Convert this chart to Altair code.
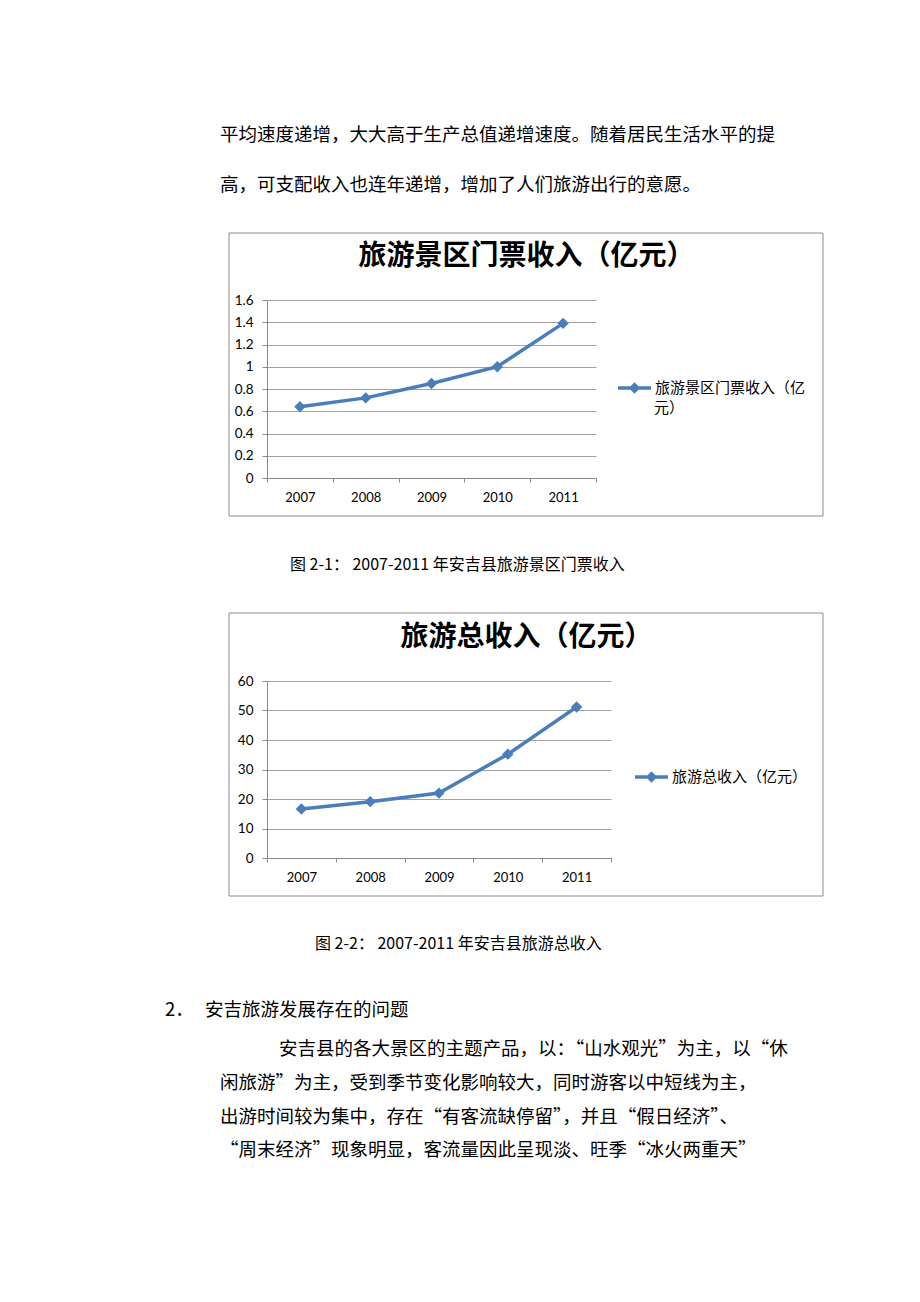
import json
import altair as alt
import pandas as pd

# ---------------- data ----------------
YEARS = ["2007", "2008", "2009", "2010", "2011"]
TICKET_INCOME = [0.64, 0.72, 0.85, 1.00, 1.39]
TOTAL_INCOME = [16.6, 19.1, 22.0, 35.2, 51.2]
TICKET_NAME = "旅游景区门票收入（亿元）"
TOTAL_NAME = "旅游总收入（亿元）"
TICKET_LEGEND_LINES = ["旅游景区门票收入（亿", "元）"]
TICKET_TICKS = [0, 0.2, 0.4, 0.6, 0.8, 1, 1.2, 1.4, 1.6]
TOTAL_TICKS = [0, 10, 20, 30, 40, 50, 60]

TOP_LINES = [
    "平均速度递增，大大高于生产总值递增速度。随着居民生活水平的提",
    "高，可支配收入也连年递增，增加了人们旅游出行的意愿。",
]
CAPTION_1 = "图 2-1：  2007-2011 年安吉县旅游景区门票收入"
CAPTION_2 = "图 2-2：  2007-2011 年安吉县旅游总收入"
HEADING_NUM = "2．"
HEADING = "安吉旅游发展存在的问题"
PARA_LINES = [
    "安吉县的各大景区的主题产品，以：“山水观光”为主，以“休",
    "闲旅游”为主，受到季节变化影响较大，同时游客以中短线为主，",
    "出游时间较为集中，存在“有客流缺停留”，并且“假日经济”、",
    "“周末经济”现象明显，客流量因此呈现淡、旺季“冰火两重天”",
]

# ---------------- style ----------------
BLUE = "#4A7EBB"
GRID = "#a3a3a3"
AXIS = "#8a8a8a"
FRAME = "#8c8c8c"
CJK = "Noto Sans CJK SC"
NUM = "Lato"
BODY = 18.5


def text_layer(s, x, y, size=BODY):
    return alt.Chart(pd.DataFrame({"t": [s]})).mark_text(
        align="left", baseline="middle", font=CJK, fontSize=size, color="#000"
    ).encode(x=alt.value(x), y=alt.value(y), text="t:N")


def rect_layer(x1, y1, x2, y2, **kw):
    return alt.Chart(pd.DataFrame({"k": [0]})).mark_rect(**kw).encode(
        x=alt.value(x1), x2=alt.value(x2), y=alt.value(y1), y2=alt.value(y2)
    )


def frame_layer(x1, y1, x2, y2):
    return rect_layer(x1, y1, x2, y2, fillOpacity=0, stroke=FRAME, strokeWidth=1)


SYM = "M-1,0L1,0M0,-0.2L0.2,0L0,0.2L-0.2,0Z"


def line_chart(values, name, ticks, width, height, title_dx, lx, ly, label_expr, extra=()):
    df = pd.DataFrame({"year": YEARS, "value": values, "series": [name] * len(YEARS)})
    x = alt.X(
        "year:N",
        bandPosition=0.5,
        scale=alt.Scale(type="band", paddingInner=0, paddingOuter=0),
        axis=alt.Axis(
            title=None, labelAngle=0, grid=False, tickBand="extent", tickSize=4,
            tickColor=AXIS, domainColor=AXIS, labelFont=NUM, labelFontSize=13,
            labelColor="#000", labelPadding=9,
        ),
    )
    y = alt.Y(
        "value:Q",
        scale=alt.Scale(domain=[ticks[0], ticks[-1]], nice=False),
        axis=alt.Axis(
            title=None, values=ticks, format=".1~f", grid=True, gridColor=GRID,
            gridWidth=1, tickSize=5, tickColor=AXIS, domainColor=AXIS,
            labelFont=NUM, labelFontSize=13.5, labelColor="#000", labelPadding=9,
        ),
    )
    color = alt.Color(
        "series:N",
        scale=alt.Scale(range=[BLUE]),
        legend=alt.Legend(
            title=None, orient="none", legendX=lx, legendY=ly, padding=0,
            symbolType=SYM, symbolSize=1089, symbolStrokeWidth=3.5,
            symbolFillColor=BLUE, symbolStrokeColor=BLUE, labelFont=CJK,
            labelFontSize=15, labelColor="#000", labelOffset=2, labelLimit=400,
            labelExpr=label_expr,
        ),
    )
    base = alt.Chart(df).encode(x=x, y=y, color=color)
    line = base.mark_line(strokeWidth=3.5)
    pts = base.mark_point(shape="diamond", filled=True, size=130, opacity=1)
    return alt.layer(line, pts, *extra).properties(
        width=width,
        height=height,
        title=alt.TitleParams(
            text=name, font=CJK, fontSize=28, fontWeight="bold", color="#000",
            anchor="middle", frame="group", dx=title_dx, dy=25, offset=19,
            baseline="bottom",
        ),
    )


# row A: top text + frame of chart 1 (origin at page x=267, y=8)
row_a = alt.layer(
    rect_layer(-259, 0, 625, 1260, opacity=0),
    frame_layer(-38, 225, 556, 508),
    text_layer(TOP_LINES[0], -47, 127),
    text_layer(TOP_LINES[1], -47, 177),
).properties(width=329, height=292)

# the legend label of chart 1 wraps onto a second line, as in the reference
chart1 = line_chart(
    TICKET_INCOME, TICKET_NAME, TICKET_TICKS, 329, 178, 95, 349, 69.5,
    json.dumps(TICKET_LEGEND_LINES[0], ensure_ascii=False),
    extra=(text_layer(TICKET_LEGEND_LINES[1], 387, 108, 15),),
)

spacer = alt.layer(
    text_layer(CAPTION_1, 23, 87, 16),
    frame_layer(-38, 135, 556, 418),
).properties(width=329, height=203)

chart2 = line_chart(
    TOTAL_INCOME, TOTAL_NAME, TOTAL_TICKS, 344, 177, 87.5, 366, 77.5,
    "datum.label",
)

row_d = alt.layer(
    text_layer(CAPTION_2, 48, 86, 16),
    text_layer(HEADING_NUM, -102, 152),
    text_layer(HEADING, -62, 152),
    text_layer(PARA_LINES[0], 12, 191),
    text_layer(PARA_LINES[1], -47, 225),
    text_layer(PARA_LINES[2], -47, 259),
    text_layer(PARA_LINES[3], -47, 292),
).properties(width=329, height=310)

chart = (
    alt.vconcat(row_a, chart1, spacer, chart2, row_d, spacing=0, bounds="flush")
    .resolve_scale(color="independent")
    .resolve_legend(color="independent")
    .properties(padding=0, background="white")
    .configure_view(stroke=None)
)

chart.save("out.html", embed_options={"renderer": "svg", "actions": False})
